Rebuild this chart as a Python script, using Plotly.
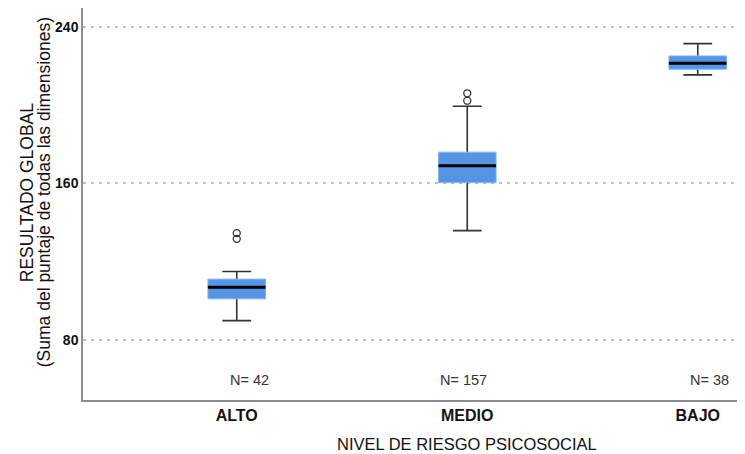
import plotly.graph_objects as go

# ---- data ----
categories = ["ALTO", "MEDIO", "BAJO"]
q1_vals = [101.0, 160.4, 218.4]
median_vals = [107.0, 169.1, 221.5]
q3_vals = [111.1, 176.0, 225.2]
lower_whisker = [89.9, 135.9, 215.5]
upper_whisker = [115.0, 199.5, 231.5]
outlier_cats = ["ALTO", "ALTO", "MEDIO", "MEDIO"]
outlier_vals = [134.6, 131.7, 206.1, 202.3]
n_counts = [42, 157, 38]
y_ticks = [80, 160, 240]

FONT = "Liberation Sans, Arial, sans-serif"
BOX_FILL = "#5495E6"
BOX_EDGE = "#8AB6EE"
WHISKER = "#333333"
BOX_W = 0.25

fig = go.Figure()

# whiskers (degenerate box at the median so only whiskers + caps show)
fig.add_trace(go.Box(
    x=categories, q1=median_vals, median=median_vals, q3=median_vals,
    lowerfence=lower_whisker, upperfence=upper_whisker,
    orientation="v", width=BOX_W, whiskerwidth=0.5,
    fillcolor="rgba(0,0,0,0)", line=dict(color=WHISKER, width=1.6),
    boxpoints=False, hoverinfo="skip", showlegend=False,
))
# blue interquartile box
fig.add_trace(go.Box(
    x=categories, q1=q1_vals, median=median_vals, q3=q3_vals,
    lowerfence=q1_vals, upperfence=q3_vals,
    orientation="v", width=BOX_W, whiskerwidth=0,
    fillcolor=BOX_FILL, line=dict(color=BOX_EDGE, width=1),
    boxpoints=False, hoverinfo="skip", showlegend=False,
))
# median line
fig.add_trace(go.Box(
    x=categories, q1=median_vals, median=median_vals, q3=median_vals,
    lowerfence=median_vals, upperfence=median_vals,
    orientation="v", width=BOX_W, whiskerwidth=0,
    fillcolor="rgba(0,0,0,0)", line=dict(color="#000000", width=3),
    boxpoints=False, hoverinfo="skip", showlegend=False,
))
# outliers
fig.add_trace(go.Scatter(
    x=outlier_cats, y=outlier_vals, mode="markers",
    marker=dict(symbol="circle-open", size=7, color=WHISKER, line=dict(width=1.3)),
    hoverinfo="skip", showlegend=False,
))

# N labels
n_xshift = [13, -4, 12]
for cat, n, dx in zip(categories, n_counts, n_xshift):
    fig.add_annotation(
        x=cat, y=59.5, xref="x", yref="y", text=f"N= {n}", showarrow=False,
        xshift=dx, font=dict(family=FONT, size=14.5, color="#333333"),
    )

# y axis title (two tightly spaced lines)
fig.add_annotation(
    x=0, xref="paper", y=0.530, yref="paper", xshift=-56,
    text="RESULTADO GLOBAL",
    textangle=-90, showarrow=False, xanchor="center", yanchor="middle",
    font=dict(family=FONT, size=17.5, color="#111111"),
)
fig.add_annotation(
    x=0, xref="paper", y=0.530, yref="paper", xshift=-39,
    text="(Suma del puntaje de todas las dimensiones)",
    textangle=-90, showarrow=False, xanchor="center", yanchor="middle",
    font=dict(family=FONT, size=17.5, color="#111111"),
)
# x axis title
fig.add_annotation(
    x="MEDIO", xref="x", y=-0.1135, yref="paper",
    text="NIVEL DE RIESGO PSICOSOCIAL", showarrow=False,
    xanchor="center", yanchor="middle",
    font=dict(family=FONT, size=16.5, color="#111111"),
)

fig.update_layout(
    width=737, height=446,
    margin=dict(l=75, r=0, t=0, b=54),
    paper_bgcolor="white", plot_bgcolor="white",
    boxmode="overlay",
    font=dict(family=FONT),
    xaxis=dict(
        type="category", categoryorder="array", categoryarray=categories,
        range=[-0.667, 2.205], showgrid=False, zeroline=False,
        showline=True, linecolor="#8c8c8c", linewidth=1.5,
        ticks="", tickfont=dict(family=FONT, size=16, color="#111111", weight="bold"),
    ),
    yaxis=dict(
        range=[49.3, 249.7], tickvals=y_ticks, ticktext=[str(v) for v in y_ticks],
        showgrid=True, gridcolor="#BDBDBD", gridwidth=1.5, griddash="3px,5px",
        zeroline=False, showline=True, linecolor="#8c8c8c", linewidth=1.5,
        ticks="", tickfont=dict(family=FONT, size=14, color="#111111", weight="bold"),
    ),
)

fig.write_html("out.html")
